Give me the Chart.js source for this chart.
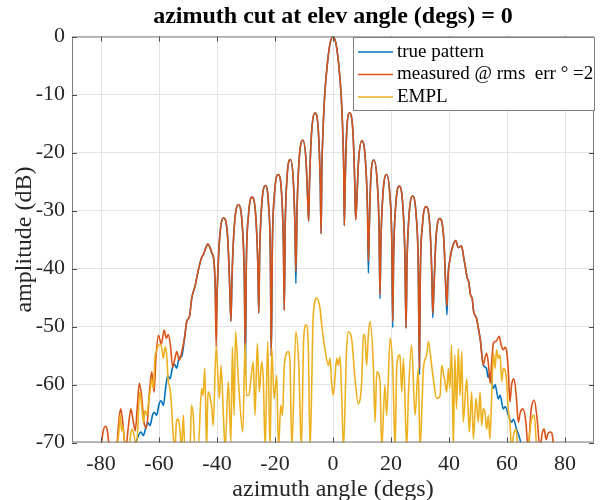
<!DOCTYPE html>
<html>
<head>
<meta charset="utf-8">
<script src="https://cdn.jsdelivr.net/npm/chart.js@4/dist/chart.umd.min.js"></script>
<style>
  body { margin: 0; background: #fff; }
  canvas { display: block; }
</style>
</head>
<body>
<canvas id="patternChart" width="603" height="500"></canvas>
<script>
// ---- data (azimuth in degs, amplitude in dB)

const xTicks = [-80, -60, -40, -20, 0, 20, 40, 60, 80];
const yTicks = [0, -10, -20, -30, -40, -50, -60, -70];

// shared part of true / measured pattern (main lobe and regular sidelobes)
const coreAz = [
  -51.2, -50.4, -49.5, -48.7, -47.6, -46.4, -45.3, -44.7, -43.9, -43.2, -42.4, -41.8, -41.0, -40.6, -40.3,
  -39.9, -39.1, -37.7, -36.3, -35.6, -35.2,
  -34.8, -34.0, -32.6, -31.3, -30.6, -30.2,
  -29.9, -29.2, -27.9, -26.6, -25.9, -25.6,
  -25.3, -24.6, -23.3, -22.2, -21.6, -21.3,
  -20.9, -20.2, -18.9, -17.7, -17.1, -16.8,
  -16.5, -15.9, -14.7, -13.7, -13.1, -12.8,
  -12.4, -11.7, -10.4, -9.3, -8.7, -8.4,
  -8.1, -7.4, -6.2, -5.0, -4.4, -4.1,
  -3.85, -3.5, -2.9, -1.9, -1.0, 0, 1.0, 1.9, 2.85, 3.4, 3.7, 3.9,
  4.2, 4.7, 5.7, 6.9, 7.5, 7.8,
  8.1, 8.8, 9.95, 11.2, 11.9, 12.2,
  12.5, 13.0, 14.05, 15.2, 15.9, 16.2,
  16.5, 17.2, 18.45, 19.6, 20.3, 20.6,
  20.9, 21.6, 22.85, 24.1, 24.8, 25.2,
  25.5, 26.2, 27.45, 28.7, 29.4, 29.8,
  30.1, 30.8, 32.1, 33.4, 34.1, 34.4,
  34.8, 35.5, 36.8, 38.2, 38.9, 39.3,
  39.6, 40.3, 41.2, 42.3, 43.2, 44.3, 45.1, 45.6, 46.2, 46.8, 47.4, 48.0, 48.5, 49.5, 50.2, 50.8, 51.8
];
const coreMeasDb = [
  -52.0, -49.1, -48.3, -45.1, -43.1, -40.2, -38.1, -37.6, -36.5, -35.8, -36.4, -37.3, -39.0, -43.5, -53.5,
  -43.3, -34.8, -31.3, -34.8, -43.3, -49.1,
  -41.0, -32.5, -29.0, -32.5, -41.0, -54.6,
  -39.7, -31.2, -27.7, -31.2, -39.7, -47.7,
  -37.7, -29.2, -25.7, -29.2, -37.7, -55.2,
  -35.8, -27.3, -23.8, -27.3, -35.8, -47.2,
  -33.2, -24.7, -21.2, -24.7, -33.2, -40.5,
  -29.9, -21.4, -17.9, -21.4, -28.5, -31.8,
  -25.2, -16.7, -13.2, -16.7, -25.2, -34.0,
  -23.0, -17.0, -10.4, -4.5, -1.2, 0, -1.2, -4.5, -10.4, -17.0, -23.0, -32.6,
  -25.2, -16.7, -13.2, -16.7, -25.2, -31.6,
  -29.5, -21.5, -18.0, -21.5, -30.0, -38.7,
  -33.3, -24.8, -21.3, -24.8, -33.3, -44.5,
  -35.8, -27.3, -23.8, -27.3, -35.8, -49.1,
  -37.8, -29.3, -25.8, -29.3, -37.8, -50.3,
  -39.5, -31.0, -27.5, -31.0, -39.5, -57.2,
  -41.3, -32.8, -29.3, -32.8, -41.3, -47.7,
  -43.4, -34.9, -31.4, -34.9, -43.4, -46.5,
  -42.0, -38.5, -36.3, -35.2, -36.4, -36.1, -38.2, -39.6, -41.5, -42.3, -44.5, -45.2, -47.4, -48.6, -50.5, -52.3, -56.6
];
const coreTrueDb = [
  -52.0, -49.1, -48.3, -45.1, -43.1, -40.2, -38.1, -37.6, -36.5, -35.8, -36.4, -37.3, -39.0, -43.5, -49.0,
  -43.3, -34.8, -31.3, -34.8, -43.3, -49.1,
  -41.0, -32.5, -29.0, -32.5, -41.0, -58.1,
  -39.7, -31.2, -27.7, -31.2, -39.7, -47.7,
  -37.7, -29.2, -25.7, -29.2, -37.7, -55.2,
  -35.8, -27.3, -23.8, -27.3, -35.8, -47.2,
  -33.2, -24.7, -21.2, -24.7, -33.2, -42.6,
  -29.9, -21.4, -17.9, -21.4, -28.5, -31.8,
  -25.2, -16.7, -13.2, -16.7, -25.2, -34.0,
  -23.0, -17.0, -10.4, -4.5, -1.2, 0, -1.2, -4.5, -10.4, -17.0, -23.0, -32.6,
  -25.2, -16.7, -13.2, -16.7, -25.2, -31.6,
  -29.5, -21.5, -18.0, -21.5, -30.0, -40.8,
  -33.3, -24.8, -21.3, -24.8, -33.3, -45.2,
  -35.8, -27.3, -23.8, -27.3, -35.8, -50.2,
  -37.8, -29.3, -25.8, -29.3, -37.8, -50.3,
  -39.5, -31.0, -27.5, -31.0, -39.5, -58.2,
  -41.3, -32.8, -29.3, -32.8, -41.3, -48.5,
  -43.4, -34.9, -31.4, -34.9, -43.4, -48.0,
  -42.0, -38.5, -36.3, -35.2, -36.4, -36.1, -38.2, -39.6, -41.5, -42.3, -44.5, -45.2, -47.4, -48.6, -50.5, -52.3, -56.6
];

// far sidelobes, where the two patterns part
const measLeftAz = [-80.0, -79.3, -78.5, -77.8, -77.1, -75.8, -74.6, -73.8, -73.2, -72.5, -71.5, -70.5, -69.7, -69.0, -68.2,
  -67.5, -66.8, -66.0, -65.2, -64.3, -63.3, -62.5, -61.7, -61.0, -60.2, -59.2, -58.2, -57.5, -56.8, -56.0,
  -55.3, -54.5, -53.9, -53.0, -52.2];
const measLeftDb = [-71, -68.2, -67.2, -68.0, -71, -74, -71, -66, -64.2, -66.5, -71, -67, -64.2, -66, -68,
  -64, -59.8, -62, -66.5, -67.5, -61.3, -57.8, -61.3, -55, -51.5, -53, -50.6, -52, -51.4, -53.5,
  -57, -55.5, -54.3, -55.8, -54.5];
const measRightAz = [52.5, 53.0, 53.6, 54.2, 54.8, 55.3, 56.3, 57.3, 58.0, 58.7, 59.3, 59.9, 60.5, 61.0, 61.6,
  62.4, 63.2, 63.9, 64.6, 65.6, 66.5, 67.3, 68.3, 69.4, 70.4, 71.4, 72.1, 72.8, 73.5, 74.1, 74.8, 75.4, 76.2];
const measRightDb = [-55.2, -54.6, -56.5, -59.8, -55.5, -52.9, -52.5, -51.7, -53.2, -54, -53.6, -54.3, -58, -63, -60,
  -59, -62, -66.5, -64.8, -64.2, -66.5, -71, -64.5, -62.7, -66, -71, -68.5, -67.7, -69.5, -68.5, -68.2, -68.3, -71];

const trueLeftAz = [-68.6, -67.4, -66.2, -65.4, -64.5, -63.9, -63.1, -62.2, -61.6, -60.8, -60.0, -59.3, -58.5,
  -57.7, -57.0, -56.2, -55.4, -54.6, -53.9, -53.0, -52.2];
const trueLeftDb = [-71, -69.2, -68.2, -68.8, -67.3, -66.5, -67.1, -65.2, -64.8, -65.3, -63.4, -62.8, -63.6,
  -60.5, -58.5, -59, -57.2, -56.5, -57.2, -55.3, -55.2];
const trueRightAz = [52.9, 53.5, 54.1, 55.3, 55.9, 57.0, 57.6, 58.7, 59.4, 60.5, 61.6, 62.2, 63.3, 64.5, 65.1];
const trueRightDb = [-57.2, -58.8, -58.0, -60.7, -60, -62.5, -61.8, -64.2, -63.8, -65.3, -66.5, -66, -67.7, -69.5, -71];

// EMPL trace
const emplAz = [
  -76.0, -74.5, -73.9, -73.4, -72.9, -72.5, -71.7, -70.5, -69.4, -68.6, -67.8, -66.6, -65.9, -65.4, -64.8,
  -64.2, -63.6, -63.1, -62.5, -61.9, -61.4, -60.8, -60.2, -59.3, -58.5, -57.9, -57.4, -56.8, -56.2, -55.7,
  -55.1, -54.5, -54.0, -53.4, -52.8, -52.2, -51.6, -51.1, -49.3, -48.8, -48.2, -47.6, -46.5, -45.3, -44.8,
  -44.2, -43.6, -43.1, -42.5, -41.8, -41.3, -40.3, -39.2, -38.6, -37.8, -37.2, -36.1, -35.2, -34.7, -34.1,
  -33.6, -32.6, -31.1, -30.3, -29.8, -29.0, -28.4, -27.5, -26.9, -26.1, -25.4, -24.6, -24.0, -23.4, -22.5,
  -21.7, -21.1, -20.3, -19.4, -18.8, -18.0, -17.4, -16.8, -15.4, -14.8, -14.2, -12.8, -11.8, -10.9, -10.1,
  -9.2, -8.5, -7.9, -6.8, -5.6, -4.5, -3.9, -2.8, -1.6, -1.0, -0.5, 0.1, 1.3, 1.8, 2.4,
  3.0, 3.6, 4.7, 5.3, 6.4, 7.6, 8.7, 9.9, 10.5, 11.0, 11.6, 12.2, 12.8, 13.9, 14.5,
  15.1, 16.2, 16.8, 17.9, 18.5, 19.7, 20.6, 21.4, 22.0, 23.1, 23.7, 24.3, 25.4, 26.0, 27.1,
  28.3, 29.4, 30.0, 31.2, 32.3, 32.9, 34.0, 34.6, 35.7, 36.9, 37.5, 38.0, 38.6, 39.2, 39.8,
  40.3, 40.9, 41.5, 42.0, 42.6, 43.2, 43.8, 44.4, 44.9, 46.1, 47.0, 47.8, 48.4, 49.3, 50.1,
  50.7, 51.3, 51.8, 52.4, 53.0, 53.6, 54.1, 54.7, 55.3, 55.9, 56.4, 57.0, 57.6, 58.2, 58.7,
  59.9, 60.4, 61.0, 61.6, 62.2, 63.1, 63.9, 66.2, 67.4, 68.5, 69.4, 70.2
];
const emplDb = [
  -71, -70.5, -68.5, -65.3, -68, -67.1, -71, -71, -67.7, -68.8, -71, -61.3, -64, -66.5, -64.5,
  -65.3, -63, -61.3, -59.0, -60.7, -55.5, -54.2, -53.2, -53.2, -55.5, -53.5, -54.6, -59.5, -60.7, -63.6,
  -68.8, -71, -66.5, -65.9, -67.7, -71, -65.3, -71, -71, -63.6, -65.3, -71, -71, -60.7, -61.9,
  -57.2, -71, -61.3, -61.9, -64, -67.1, -53.5, -62.4, -56.7, -65.3, -71, -59.5, -70, -53.5, -65.3,
  -50.9, -59.5, -68.2, -52.9, -61.9, -61.9, -59.5, -56.1, -65.3, -52.9, -61.3, -56.1, -59.5, -71, -52.6,
  -71, -53.8, -62.4, -58.4, -71, -63.6, -65.3, -56.7, -54.3, -56.7, -71, -50.9, -56.7, -71, -52.0,
  -49.7, -53.8, -71, -48.0, -45.1, -46.8, -49.7, -53.8, -56.7, -55.5, -59.5, -61.9, -55.5, -56.7, -55.2,
  -61.9, -71, -53.8, -50.9, -52.0, -59.0, -63.3, -59.5, -51.4, -51.7, -56.7, -51.4, -49.1, -56.7, -66.5,
  -57.8, -59.5, -71, -60.1, -65.3, -52.0, -57.2, -71, -56.7, -54.9, -61.3, -55.5, -71, -61.9, -53.2,
  -65.3, -57.2, -71, -57.2, -54.9, -52.6, -56.7, -59.0, -62.4, -62, -56.7, -57.8, -59.5, -61.3, -57.2,
  -60.7, -53.2, -71, -54.9, -64.2, -53.8, -61.9, -54.3, -66.5, -59.0, -68.2, -61.3, -69.4, -62.4, -66.5,
  -61.3, -67.1, -64.2, -64.8, -67.7, -65.3, -69.4, -62.4, -54.6, -57.2, -54.0, -55.5, -54.9, -59.5, -57.2,
  -59.5, -64.2, -66.5, -71, -68.8, -67.7, -71, -71, -69.9, -65.9, -65.3, -71
];

const labels = ['true pattern', 'measured @ rms  err \u00b0 =2', 'EMPL'];
const colors = ['#0072BD', '#D95319', '#EDB120'];

const serif = '"Liberation Serif", "Times New Roman", serif';
const axisGray = '#7f7f7f';
const textGray = '#262626';

function pts(az, db) {
  return az.map((a, i) => ({ x: a, y: db[i] }));
}

const trueAz = trueLeftAz.concat(coreAz, trueRightAz);
const trueDb = trueLeftDb.concat(coreTrueDb, trueRightDb);
const measAz = measLeftAz.concat(coreAz, measRightAz);
const measDb = measLeftDb.concat(coreMeasDb, measRightDb);

// title, box with inward ticks, legend inside the axes
const frame = {
  id: 'frame',
  afterDraw(chart) {
    const c = chart.ctx, a = chart.chartArea;
    const xs = chart.scales.x, ys = chart.scales.y;
    c.save();
    c.strokeStyle = axisGray;
    c.lineWidth = 1;
    c.strokeRect(a.left + 0.5, a.top + 0.5, a.right - a.left - 1, a.bottom - a.top - 1);
    c.strokeStyle = '#4d4d4d';
    c.beginPath();
    xTicks.forEach(v => {
      const px = Math.round(xs.getPixelForValue(v)) + 0.5;
      c.moveTo(px, a.bottom); c.lineTo(px, a.bottom - 5);
      c.moveTo(px, a.top); c.lineTo(px, a.top + 5);
    });
    yTicks.forEach(v => {
      const py = Math.round(ys.getPixelForValue(v)) + 0.5;
      c.moveTo(a.left, py); c.lineTo(a.left + 5, py);
      c.moveTo(a.right, py); c.lineTo(a.right - 5, py);
    });
    c.stroke();

    // title
    c.fillStyle = '#000';
    c.font = 'bold 24px ' + serif;
    c.textAlign = 'center';
    c.textBaseline = 'middle';
    c.fillText('azimuth cut at elev angle (degs) = 0', (a.left + a.right) / 2, 17);

    // legend
    const lx = 353.5, ly = 37.5, lw = 241, lh = 73;
    c.fillStyle = '#fff';
    c.fillRect(lx, ly, lw, lh);
    c.strokeStyle = axisGray;
    c.strokeRect(lx, ly, lw, lh);
    c.font = '19px ' + serif;
    c.textAlign = 'left';
    labels.forEach((t, i) => {
      const y = 52 + i * 22.5;
      c.strokeStyle = colors[i];
      c.lineWidth = 1.6;
      c.beginPath(); c.moveTo(358, y); c.lineTo(393, y); c.stroke();
      c.fillStyle = '#000';
      c.fillText(t, 397, y);
    });
    c.restore();
  }
};

const ctx = document.getElementById('patternChart').getContext('2d');
const patternChart = new Chart(ctx, {
  type: 'line',
  data: {
    datasets: [
      { label: labels[0], data: pts(trueAz, trueDb), borderColor: colors[0], order: 3 },
      { label: labels[1], data: pts(measAz, measDb), borderColor: colors[1], order: 2 },
      { label: labels[2], data: pts(emplAz, emplDb), borderColor: colors[2], order: 1 }
    ]
  },
  options: {
    responsive: false,
    animation: false,
    parsing: false,
    datasets: {
      line: { borderWidth: 1.6, pointRadius: 0, cubicInterpolationMode: 'monotone', fill: false }
    },
    layout: { padding: { top: 36.5, right: 9, left: 0, bottom: 0 } },
    plugins: {
      legend: { display: false },
      title: { display: false },
      tooltip: { enabled: false }
    },
    scales: {
      x: {
        type: 'linear',
        min: -90, max: 90,
        afterBuildTicks: s => { s.ticks = xTicks.map(v => ({ value: v })); },
        afterFit: s => { s.height = 57.5; },
        grid: { color: '#e3e3e3', drawTicks: false },
        border: { display: false },
        ticks: { color: textGray, font: { family: serif, size: 22 }, padding: 9, maxRotation: 0 },
        title: { display: true, text: 'azimuth angle (degs)', color: textGray,
                 font: { family: serif, size: 24, lineHeight: 1 }, padding: { top: 0, bottom: -2 } }
      },
      y: {
        min: -70, max: 0,
        afterBuildTicks: s => { s.ticks = yTicks.map(v => ({ value: v })); },
        afterFit: s => { s.width = 72; },
        grid: { color: '#e3e3e3', drawTicks: false },
        border: { display: false },
        ticks: { color: textGray, font: { family: serif, size: 22 }, padding: 7 },
        title: { display: true, text: 'amplitude (dB)', color: textGray,
                 font: { family: serif, size: 24, lineHeight: 1 }, padding: { top: 13, bottom: 0 } }
      }
    }
  },
  plugins: [frame]
});
</script>
</body>
</html>
